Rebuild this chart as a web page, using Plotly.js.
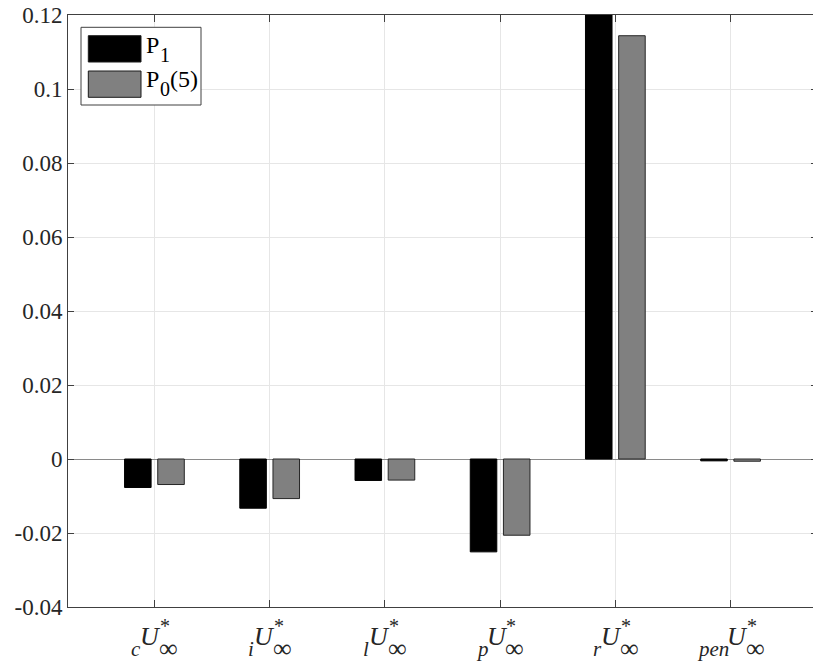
<!DOCTYPE html>
<html>
<head>
<meta charset="utf-8">
<script src="https://cdn.plot.ly/plotly-3.0.1.min.js"></script>
<style>
html, body { margin: 0; padding: 0; overflow: hidden; background: #fff; }
#chart { width: 817px; height: 664px; }
</style>
</head>
<body>
<div id="chart"></div>
<script>
// ---- data ----
const categories = ['c', 'i', 'l', 'p', 'r', 'pen'];
const seriesP1 = [-0.0077, -0.0133, -0.0058, -0.0251, 0.13, -0.0005];
const seriesP0 = [-0.0069, -0.0107, -0.0057, -0.0206, 0.1144, -0.0006];
const seriesNames = ['P_1', 'P_0(5)'];
const seriesColors = ['#000000', '#808080'];
const yTickVals = [-0.04, -0.02, 0, 0.02, 0.04, 0.06, 0.08, 0.1, 0.12];
const yTickText = ['-0.04', '-0.02', '0', '0.02', '0.04', '0.06', '0.08', '0.1', '0.12'];

// ---- layout constants ----
const FONT = '"Liberation Serif", "Times New Roman", Times, serif';
const TXT = '#262626';
const AX = '#404040';
const M = {l: 68, r: 0, t: 15, b: 57};
const H = 664;
const plotBottom = H - M.b;

const cv = document.createElement('canvas').getContext('2d');
function measure(t, italic, fs) {
  cv.font = (italic ? 'italic ' : '') + fs + 'px ' + FONT;
  return cv.measureText(t).width;
}
const ASC = 0.891;

const annotations = [];
const annBase = [];   // wanted baseline (figure px) of each annotation
const shapes = [];

// x category labels: _{cat}U^{*}_{\infty}
const XF = 26, XS = 21, XSTAR = 20;
categories.forEach(function (cat) {
  const wp = measure(cat, true, XS), wu = measure('U', true, XF), wi = measure('\u221E', false, XF);
  const W = wp + wu + wi;
  const start = -W / 2;
  const pieces = [
    {t: '<i>' + cat + '</i>', dx: start, base: 655.5, fs: XS},
    {t: '<i>U</i>', dx: start + wp, base: 645.5, fs: XF},
    {t: '*', dx: start + wp + wu + 1, base: 632.5, fs: XSTAR},
    {t: '\u221E', dx: start + wp + wu, base: 657, fs: XF}
  ];
  pieces.forEach(function (pc) {
    annotations.push({
      xref: 'x', x: cat, yref: 'paper', y: 0,
      xanchor: 'left', yanchor: 'top',
      xshift: pc.dx, yshift: -((pc.base - ASC * pc.fs) - plotBottom),
      text: pc.t, showarrow: false, borderpad: 0, borderwidth: 0,
      font: {family: FONT, size: pc.fs, color: TXT}
    });
    annBase.push(pc.base);
  });
});

// legend (drawn with shapes + annotations)
const LF = 24, LS = 20;
shapes.push({type: 'rect', xref: 'paper', yref: 'paper', xsizemode: 'pixel', ysizemode: 'pixel',
  xanchor: 0, yanchor: 1, x0: 13, x1: 133, y0: -12.3, y1: -90,
  line: {color: AX, width: 1}, fillcolor: '#ffffff', layer: 'above'});
const swY = [[-20.7, -47], [-56, -82.3]];
const rowBase = [53.3, 87.3];
seriesNames.forEach(function (nm, k) {
  shapes.push({type: 'rect', xref: 'paper', yref: 'paper', xsizemode: 'pixel', ysizemode: 'pixel',
    xanchor: 0, yanchor: 1, x0: 20.3, x1: 73, y0: swY[k][0], y1: swY[k][1],
    line: {color: '#1a1a1a', width: 1}, fillcolor: seriesColors[k], layer: 'above'});
  const m = nm.match(/^([^_]*)_(.)(.*)$/);
  const parts = [{t: m[1], sub: false}, {t: m[2], sub: true}];
  if (m[3]) parts.push({t: m[3], sub: false});
  let x = 78.3;
  parts.forEach(function (p) {
    const fs = p.sub ? LS : LF;
    const base = rowBase[k] + (p.sub ? 8.6 : 0);
    annotations.push({
      xref: 'paper', x: 0, yref: 'paper', y: 1,
      xanchor: 'left', yanchor: 'top',
      xshift: x, yshift: -((base - ASC * fs) - M.t),
      text: p.t, showarrow: false, borderpad: 0, borderwidth: 0,
      font: {family: FONT, size: fs, color: '#000'}
    });
    annBase.push(base);
    x += measure(p.t, false, fs);
  });
});

const traces = [
  {type: 'bar', x: categories, y: seriesP1, name: 'P\u2081',
   marker: {color: seriesColors[0], line: {color: '#000', width: 1}}},
  {type: 'bar', x: categories, y: seriesP0, name: 'P\u2080(5)',
   marker: {color: seriesColors[1], line: {color: '#262626', width: 1}}}
];

const layout = {
  width: 817, height: H, autosize: false,
  margin: M,
  paper_bgcolor: '#fff', plot_bgcolor: '#fff',
  showlegend: false,
  barmode: 'group', bargap: 0.424, bargroupgap: 0.2,
  font: {family: FONT, color: TXT},
  xaxis: {
    type: 'category', range: [-0.75, 5.75],
    showticklabels: false,
    ticks: 'inside', ticklen: 7, tickcolor: AX, tickwidth: 1,
    showline: true, linecolor: AX, linewidth: 1, mirror: 'ticks',
    showgrid: true, gridcolor: '#e6e6e6', gridwidth: 1,
    zeroline: false
  },
  yaxis: {
    range: [-0.04, 0.12],
    tickmode: 'array', tickvals: yTickVals, ticktext: yTickText,
    tickfont: {family: FONT, size: 23, color: TXT},
    ticks: 'inside', ticklen: 6, tickcolor: AX, tickwidth: 1,
    showline: true, linecolor: AX, linewidth: 1, mirror: 'ticks',
    showgrid: true, gridcolor: '#e6e6e6', gridwidth: 1,
    zeroline: true, zerolinecolor: '#8a8a8a', zerolinewidth: 1
  },
  annotations: annotations,
  shapes: shapes
};

Plotly.newPlot('chart', traces, layout, {displayModeBar: false, staticPlot: true}).then(function (gd) {
  // align each text piece's baseline exactly to its wanted position
  const svg = gd.querySelector('svg.main-svg');
  const upd = {};
  gd.querySelectorAll('g.annotation').forEach(function (g) {
    const idx = +g.getAttribute('data-index');
    const t = g.querySelector('text.annotation-text');
    if (!t || isNaN(idx)) return;
    const pt = svg.createSVGPoint();
    pt.x = parseFloat(t.getAttribute('x')) || 0;
    pt.y = parseFloat(t.getAttribute('y')) || 0;
    const p = pt.matrixTransform(t.getScreenCTM());
    const dy = annBase[idx] - p.y;
    if (Math.abs(dy) > 0.5) upd['annotations[' + idx + '].yshift'] = annotations[idx].yshift - dy;
  });
  if (Object.keys(upd).length) return Plotly.relayout(gd, upd);
});
</script>
</body>
</html>
